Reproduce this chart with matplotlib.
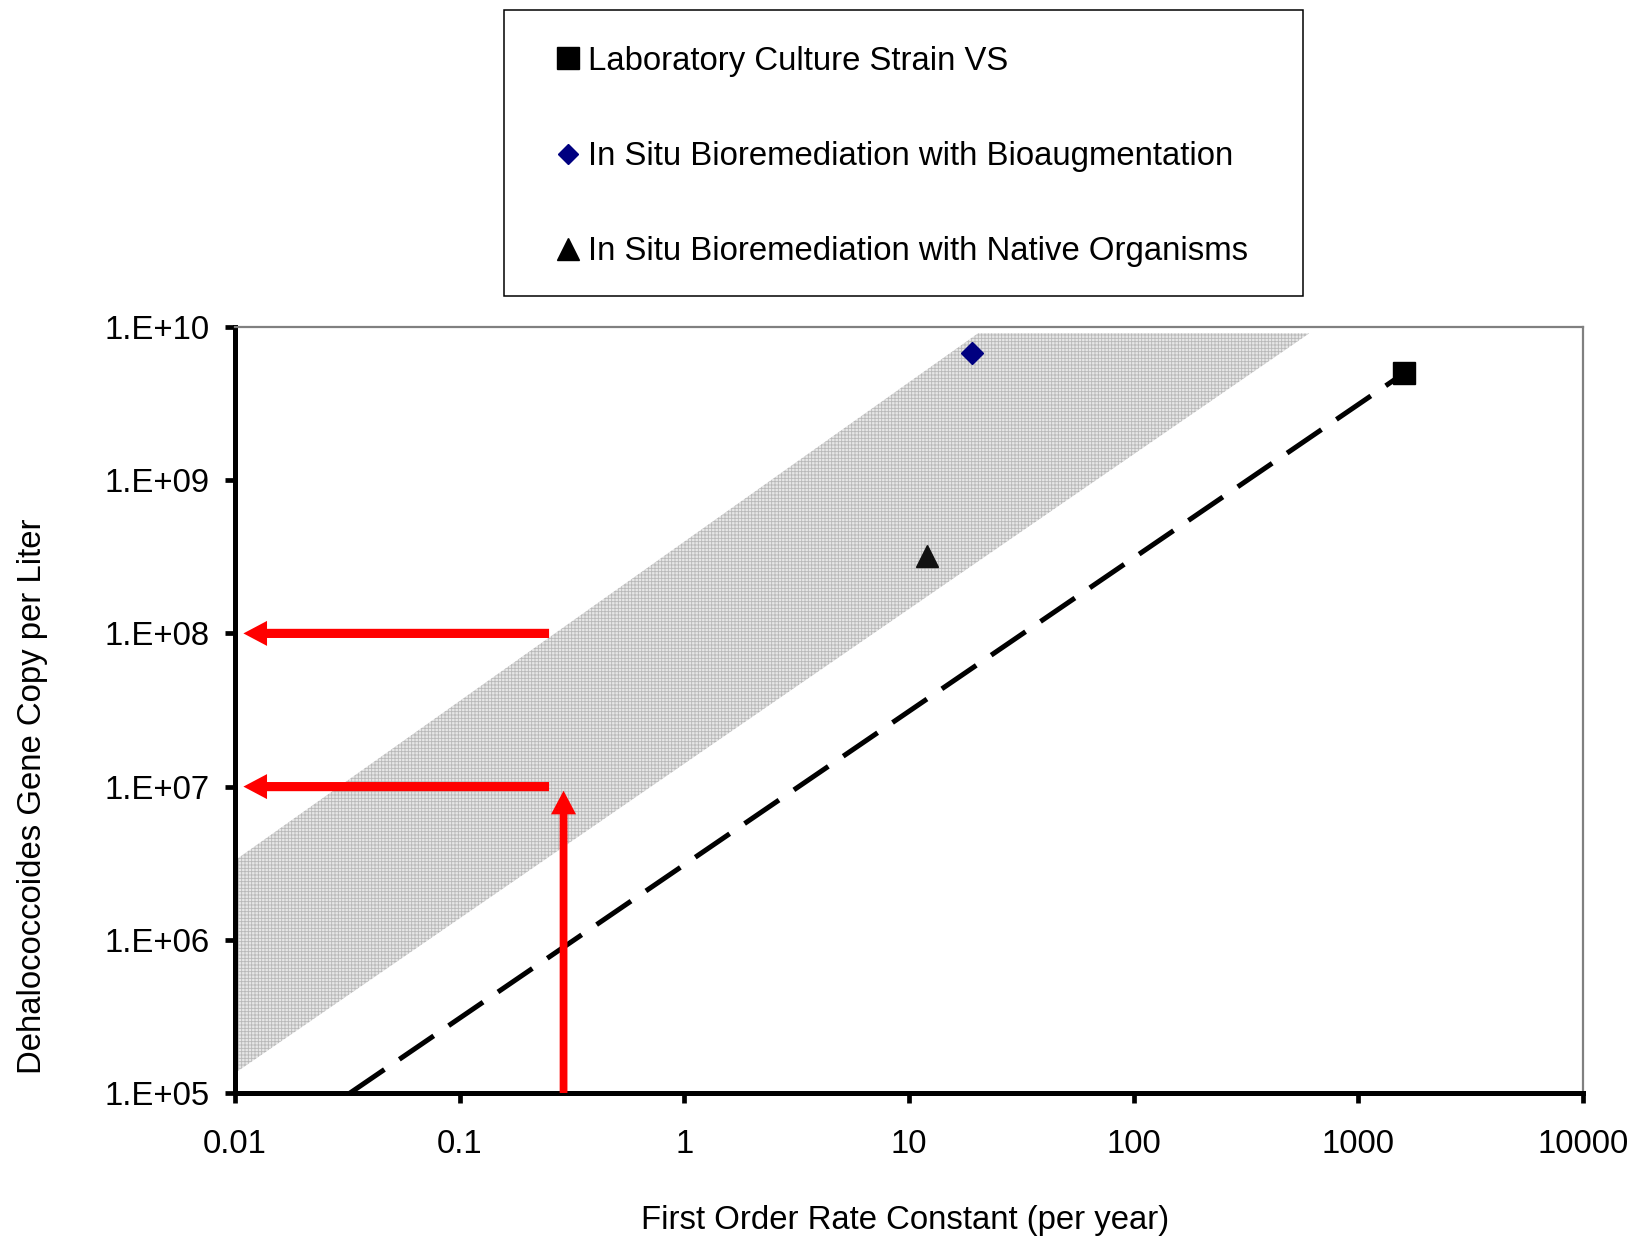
import matplotlib
matplotlib.use("Agg")
import matplotlib.pyplot as plt
from matplotlib.lines import Line2D
from matplotlib.patches import Rectangle

plt.rcParams['font.family'] = ['Liberation Sans', 'DejaVu Sans']
plt.rcParams['hatch.linewidth'] = 0.6
plt.rcParams['lines.scale_dashes'] = False

# points
lab_k = [1600]
lab_n = [5.0e9]
bioaug_k = [19]
bioaug_n = [6.8e9]
native_k = [12]
native_n = [3.2e8]

# dashed reference line (lab strain rate per cell)
line_k = [0.0325, 1600]
line_n = [1.0e5, 5.0e9]

# shaded range polygon
band_k = [0.01, 0.01, 20.3, 605]
band_n = [1.35e5, 3.3e6, 9.1e9, 9.1e9]

# red arrows
arrow_levels = [1e8, 1e7]
arrow_tail_k = 0.25
arrow_tip_k = 0.0109
up_arrow_k = 0.29
up_arrow_tip = 9.4e6

xticks = [0.01, 0.1, 1, 10, 100, 1000, 10000]
xlabels = ['0.01', '0.1', '1', '10', '100', '1000', '10000']
yticks = [1e5, 1e6, 1e7, 1e8, 1e9, 1e10]
ylabels = ['1.E+05', '1.E+06', '1.E+07', '1.E+08', '1.E+09', '1.E+10']

fs = 23.7

fig = plt.figure(figsize=(16.46, 12.38), dpi=100)
ax = fig.add_axes([0.14277, 0.11712, 0.81896, 0.61874])
ax.set_xscale('log')
ax.set_yscale('log')
ax.set_xlim(0.01, 10000)
ax.set_ylim(1e5, 1e10)

ax.fill(band_k, band_n, facecolor='#e6e6e6', edgecolor='#b8b8b8',
        hatch='+++++', linewidth=0, zorder=1)

ax.plot(line_k, line_n, color='black', linewidth=3.6, dashes=(30, 13), zorder=2)

ax.plot(lab_k, lab_n, 's', color='black', markersize=16.5, zorder=4)
ax.plot(bioaug_k, bioaug_n, 'D', color='#000080', markersize=10.7, zorder=4)
ax.plot(native_k, native_n, '^', color='#111111', markersize=15.8, zorder=4)

arrow_style = dict(facecolor='#ff0000', edgecolor='none', width=6.6,
                   headwidth=18, headlength=17, shrink=0)
for lev in arrow_levels:
    ax.annotate('', xy=(arrow_tip_k, lev), xytext=(arrow_tail_k, lev),
                arrowprops=arrow_style, zorder=5)
ax.annotate('', xy=(up_arrow_k, up_arrow_tip), xytext=(up_arrow_k, 1e5),
            arrowprops=dict(arrow_style, width=5.6), zorder=5)

ax.set_xticks(xticks, xlabels)
ax.set_yticks(yticks, ylabels)
ax.minorticks_off()
ax.tick_params(axis='both', direction='out', length=7.2, width=3.4,
               labelsize=fs, color='black')
ax.tick_params(axis='y', pad=10.8)
ax.tick_params(axis='x', pad=18.5)

for side in ['left', 'bottom']:
    ax.spines[side].set_linewidth(3.6)
    ax.spines[side].set_color('black')
for side in ['top', 'right']:
    ax.spines[side].set_linewidth(1.6)
    ax.spines[side].set_color('#808080')

ax.set_xlabel('First Order Rate Constant (per year)', fontsize=fs)
ax.set_ylabel('Dehalococcoides Gene Copy per Liter', fontsize=fs)
ax.xaxis.set_label_coords(0.497, -0.1462)
ax.yaxis.set_label_coords(-0.1387, 0.3877)

# legend box above the plot
fig.patches.append(Rectangle((504 / 1646, 1 - 296 / 1238), 799 / 1646, 286 / 1238,
                             transform=fig.transFigure, facecolor='white',
                             edgecolor='black', linewidth=1.1))
handles = [
    Line2D([], [], marker='s', linestyle='none', color='black', markersize=16.5),
    Line2D([], [], marker='D', linestyle='none', color='#000080', markersize=10.5),
    Line2D([], [], marker='^', linestyle='none', color='black', markersize=16.5),
]
names = ['Laboratory Culture Strain VS',
         'In Situ Bioremediation with Bioaugmentation',
         'In Situ Bioremediation with Native Organisms']
fig.legend(handles, names, loc='upper left', bbox_to_anchor=(0.3293, 0.9762),
           frameon=False, fontsize=fs, borderpad=0, handlelength=0.6,
           handletextpad=0.3, labelspacing=1.95, numpoints=1)

fig.savefig('out.png', dpi=100)
